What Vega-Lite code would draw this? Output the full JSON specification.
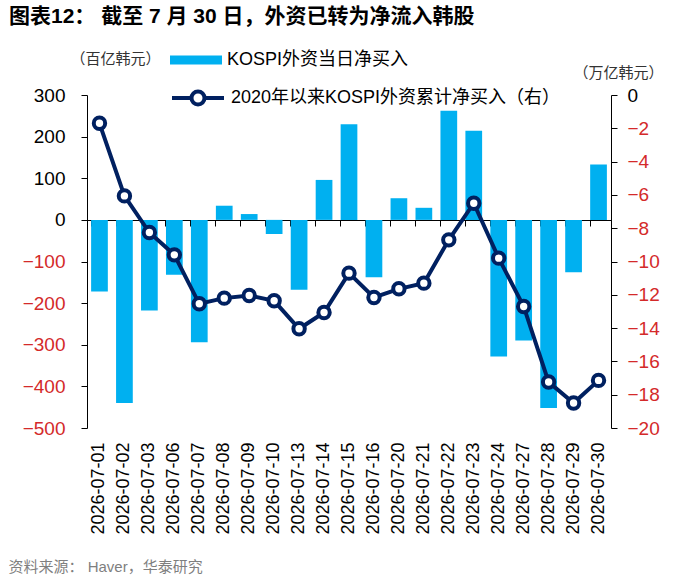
{
  "$schema": "https://vega.github.io/schema/vega-lite/v6.json",
  "width": 524,
  "height": 333,
  "autosize": {"type": "none"},
  "padding": {"left": 87, "top": 95, "right": 79, "bottom": 160},
  "background": "white",
  "title": {
    "text": "图表12：  截至 7 月 30 日，外资已转为净流入韩股",
    "anchor": "start",
    "frame": "group",
    "dx": -78,
    "offset": 7,
    "font": "Liberation Sans, Noto Sans CJK SC",
    "fontSize": 21,
    "fontWeight": "bold",
    "color": "black"
  },
  "data": {
    "values": [
      {"date": "2026-07-01", "daily": -172, "cum": -1.7},
      {"date": "2026-07-02", "daily": -440, "cum": -6.06},
      {"date": "2026-07-03", "daily": -218, "cum": -8.26},
      {"date": "2026-07-06", "daily": -132, "cum": -9.6},
      {"date": "2026-07-07", "daily": -294, "cum": -12.54},
      {"date": "2026-07-08", "daily": 34, "cum": -12.2},
      {"date": "2026-07-09", "daily": 14, "cum": -12.04},
      {"date": "2026-07-10", "daily": -34, "cum": -12.36},
      {"date": "2026-07-13", "daily": -168, "cum": -14.04},
      {"date": "2026-07-14", "daily": 96, "cum": -13.06},
      {"date": "2026-07-15", "daily": 230, "cum": -10.7},
      {"date": "2026-07-16", "daily": -138, "cum": -12.16},
      {"date": "2026-07-20", "daily": 52, "cum": -11.64},
      {"date": "2026-07-21", "daily": 29, "cum": -11.3},
      {"date": "2026-07-22", "daily": 262, "cum": -8.7},
      {"date": "2026-07-23", "daily": 214, "cum": -6.5},
      {"date": "2026-07-24", "daily": -328, "cum": -9.8},
      {"date": "2026-07-27", "daily": -290, "cum": -12.7},
      {"date": "2026-07-28", "daily": -452, "cum": -17.24},
      {"date": "2026-07-29", "daily": -126, "cum": -18.5},
      {"date": "2026-07-30", "daily": 133, "cum": -17.14}
    ]
  },
  "layer": [
    {
      "mark": {"type": "bar"},
      "encoding": {
        "x": {
          "field": "date",
          "type": "ordinal",
          "scale": {"paddingInner": 0.33, "paddingOuter": 0.165},
          "axis": {
            "domain": false,
            "ticks": false,
            "labelAngle": -90,
            "labelPadding": 14,
            "labelFont": "Liberation Sans",
            "labelFontSize": 18,
            "labelColor": "black",
            "title": "资料来源：  Haver，华泰研究",
            "titleFont": "Liberation Sans, Noto Sans CJK SC",
            "titleFontSize": 15,
            "titleFontWeight": "normal",
            "titleColor": "#7F7F7F",
            "titleX": -79,
            "titleY": 138,
            "titleAlign": "left",
            "titleBaseline": "middle"
          }
        },
        "y": {
          "field": "daily",
          "type": "quantitative",
          "scale": {"domain": [-500, 300], "nice": false},
          "axis": {
            "values": [-500, -400, -300, -200, -100, 0, 100, 200, 300],
            "grid": false,
            "domainColor": "black",
            "tickColor": "black",
            "tickSize": 6,
            "labelPadding": 16,
            "labelFont": "Liberation Sans",
            "labelFontSize": 19,
            "labelColor": {"condition": {"test": "datum.value < 0", "value": "#D42A2A"}, "value": "black"},
            "title": "（百亿韩元）",
            "titleAngle": 0,
            "titleX": 28,
            "titleY": -37,
            "titleAlign": "center",
            "titleBaseline": "middle",
            "titleFont": "Noto Sans CJK SC",
            "titleFontSize": 15,
            "titleFontWeight": "normal",
            "titleColor": "#333333"
          }
        },
        "fill": {
          "datum": "KOSPI外资当日净买入",
          "type": "nominal",
          "scale": {"range": ["#00B0F0"]},
          "legend": {
            "orient": "none",
            "legendX": 83,
            "legendY": -61,
            "padding": 0,
            "title": null,
            "symbolType": "M-1,-0.17L1,-0.17L1,0.17L-1,0.17Z",
            "symbolSize": 2704,
            "symbolStrokeWidth": 0,
            "labelOffset": 5,
            "labelLimit": 500,
            "labelFont": "Liberation Sans, Noto Sans CJK SC",
            "labelFontSize": 18,
            "labelColor": "black"
          }
        }
      }
    },
    {
      "mark": {
        "type": "line",
        "strokeWidth": 4,
        "point": {"filled": true, "fill": "white", "strokeWidth": 4, "size": 130}
      },
      "encoding": {
        "x": {
          "field": "date",
          "type": "ordinal",
          "axis": {
            "orient": "bottom",
            "offset": -208,
            "labels": false,
            "ticks": true,
            "tickSize": 6,
            "tickColor": "black",
            "bandPosition": 0,
            "domain": true,
            "domainColor": "black",
            "title": null
          }
        },
        "y": {
          "field": "cum",
          "type": "quantitative",
          "scale": {"domain": [-20, 0], "nice": false},
          "axis": {
            "orient": "right",
            "values": [-20, -18, -16, -14, -12, -10, -8, -6, -4, -2, 0],
            "grid": false,
            "domainColor": "black",
            "tickColor": "black",
            "tickSize": 6,
            "labelPadding": 10,
            "labelFont": "Liberation Sans",
            "labelFontSize": 19,
            "labelColor": {"condition": {"test": "datum.value < 0", "value": "#D42A2A"}, "value": "black"},
            "title": "（万亿韩元）",
            "titleAngle": 0,
            "titleX": 7,
            "titleY": -23,
            "titleAlign": "center",
            "titleBaseline": "middle",
            "titleFont": "Noto Sans CJK SC",
            "titleFontSize": 15,
            "titleFontWeight": "normal",
            "titleColor": "#333333"
          }
        },
        "stroke": {
          "datum": "2020年以来KOSPI外资累计净买入（右）",
          "type": "nominal",
          "scale": {"range": ["#002060"]},
          "legend": {
            "orient": "none",
            "legendX": 83,
            "legendY": -25,
            "padding": 0,
            "title": null,
            "symbolType": "M-1,0L-0.25,0M0.25,0L1,0M-0.25,0A0.25,0.25 0 1,1 0.25,0A0.25,0.25 0 1,1 -0.25,0",
            "symbolSize": 2704,
            "symbolStrokeWidth": 4,
            "symbolFillColor": "white",
            "labelOffset": 5,
            "labelLimit": 500,
            "labelFont": "Liberation Sans, Noto Sans CJK SC",
            "labelFontSize": 18,
            "labelColor": "black"
          }
        }
      }
    }
  ],
  "resolve": {
    "scale": {"y": "independent"},
    "axis": {"x": "independent", "y": "independent"}
  },
  "config": {
    "view": {"stroke": null}
  }
}
